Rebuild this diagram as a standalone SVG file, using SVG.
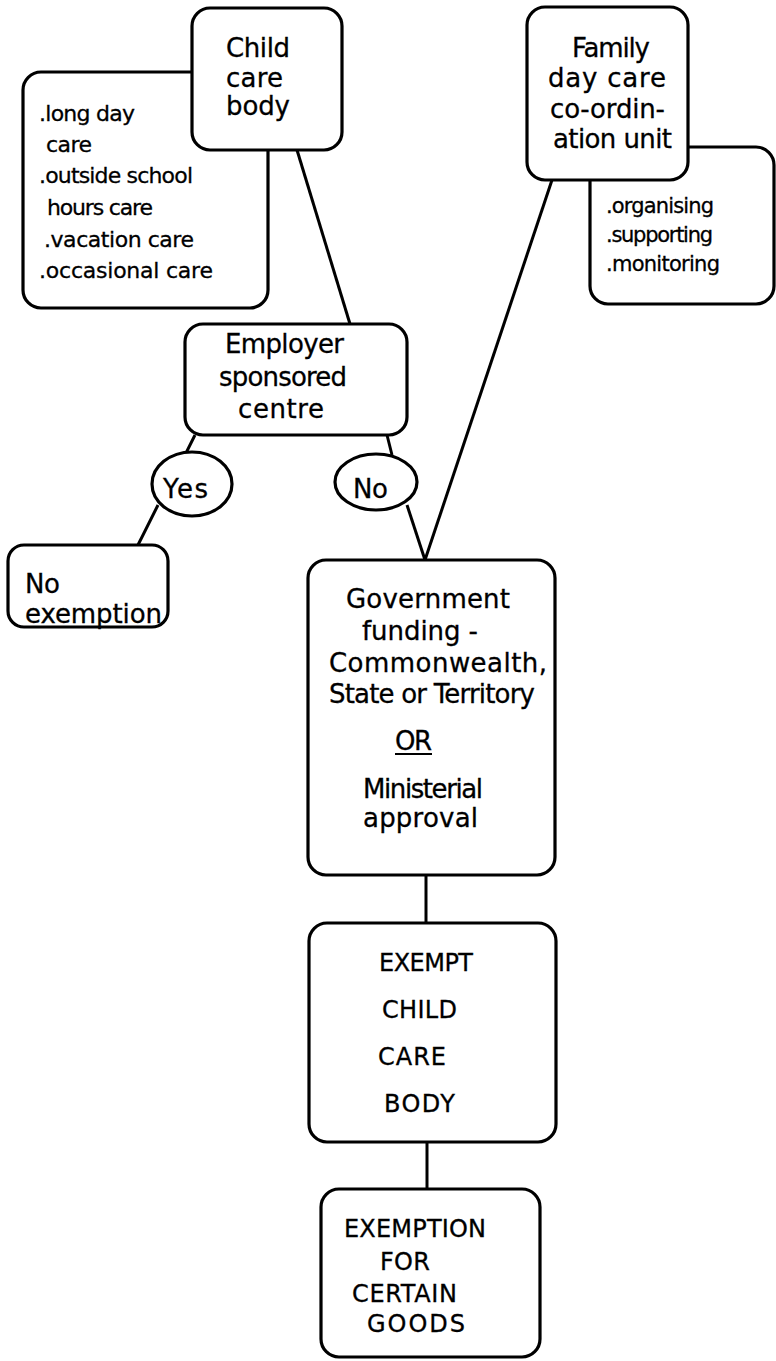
<svg xmlns="http://www.w3.org/2000/svg" width="776" height="1361" viewBox="0 0 776 1361">
<style>
.box{fill:#fff;stroke:#000;stroke-width:3.2}
.ell{fill:#fff;stroke:#000;stroke-width:3.2}
.ln{stroke:#000;stroke-width:3;fill:none}
text{font-family:"DejaVu Sans","Liberation Sans",sans-serif;fill:#000;stroke:#000;stroke-width:0.3}
.t{font-size:26px}
.s{font-size:22px}
.m{font-size:21px}
.c{font-size:24px}
</style>
<rect width="776" height="1361" fill="#fff"/>
<g id="connectors">
<line class="ln" x1="297" y1="150" x2="350" y2="324"/>
<line class="ln" x1="195" y1="435" x2="186" y2="453"/>
<line class="ln" x1="158" y1="505" x2="138" y2="545"/>
<line class="ln" x1="387" y1="435" x2="392" y2="455"/>
<line class="ln" x1="407" y1="505" x2="425" y2="560"/>
<line class="ln" x1="552" y1="180" x2="425" y2="560"/>
<line class="ln" x1="426" y1="875" x2="426" y2="923"/>
<line class="ln" x1="427" y1="1142" x2="427" y2="1189"/>
</g>
<g id="activities">
<rect class="box" x="23" y="72" width="245" height="236" rx="18"/>
<text class="s" x="39" y="121" textLength="96">.long day</text>
<text class="s" x="46" y="152" textLength="46">care</text>
<text class="s" x="39" y="183" textLength="154">.outside school</text>
<text class="s" x="47" y="215" textLength="106">hours care</text>
<text class="s" x="44" y="247" textLength="150">.vacation care</text>
<text class="s" x="39" y="278" textLength="174">.occasional care</text>
</g>
<g id="child-care-body">
<rect class="box" x="192" y="8" width="150" height="142" rx="18"/>
<text class="t" x="226" y="57" textLength="64">Child</text>
<text class="t" x="226" y="87" textLength="57">care</text>
<text class="t" x="226" y="115" textLength="64">body</text>
</g>
<g id="functions">
<rect class="box" x="590" y="147" width="184" height="157" rx="18"/>
<text class="m" x="606" y="213" textLength="108">.organising</text>
<text class="m" x="606" y="242" textLength="107">.supporting</text>
<text class="m" x="606" y="271" textLength="114">.monitoring</text>
</g>
<g id="family-day-care">
<rect class="box" x="527" y="7" width="161" height="173" rx="18"/>
<text class="t" x="572" y="57" textLength="78">Family</text>
<text class="t" x="548" y="87" textLength="118">day care</text>
<text class="t" x="550" y="118" textLength="115">co-ordin-</text>
<text class="t" x="553" y="148" textLength="119">ation unit</text>
</g>
<g id="employer">
<rect class="box" x="185" y="324" width="222" height="111" rx="18"/>
<text class="t" x="225" y="353" textLength="119">Employer</text>
<text class="t" x="219" y="386" textLength="128">sponsored</text>
<text class="t" x="238" y="418" textLength="86">centre</text>
</g>
<g id="yes">
<ellipse class="ell" cx="192" cy="484" rx="40" ry="32"/>
<text class="t" x="163" y="498" textLength="45">Yes</text>
</g>
<g id="no">
<ellipse class="ell" cx="376" cy="482" rx="41" ry="28"/>
<text class="t" x="353" y="498" textLength="35">No</text>
</g>
<g id="no-exemption">
<rect class="box" x="8" y="545" width="160" height="82" rx="16"/>
<text class="t" x="25" y="593" textLength="35">No</text>
<text class="t" x="25" y="623" textLength="137">exemption</text>
</g>
<g id="government">
<rect class="box" x="308" y="560" width="247" height="315" rx="18"/>
<text class="t" x="346" y="608" textLength="164">Government</text>
<text class="t" x="362" y="640" textLength="116">funding -</text>
<text class="t" x="329" y="672" textLength="218">Commonwealth,</text>
<text class="t" x="329" y="703" textLength="206">State or Territory</text>
<text class="t" x="395" y="750" textLength="37">OR</text>
<line x1="395" y1="754" x2="432" y2="754" stroke="#000" stroke-width="2"/>
<text class="t" x="363" y="798" textLength="120">Ministerial</text>
<text class="t" x="363" y="827" textLength="115">approval</text>
</g>
<g id="exempt">
<rect class="box" x="309" y="923" width="247" height="219" rx="18"/>
<text class="c" x="379" y="971" textLength="94">EXEMPT</text>
<text class="c" x="382" y="1018" textLength="75">CHILD</text>
<text class="c" x="378" y="1065" textLength="68">CARE</text>
<text class="c" x="384" y="1112" textLength="71">BODY</text>
</g>
<g id="exemption-goods">
<rect class="box" x="321" y="1189" width="219" height="168" rx="18"/>
<text class="c" x="344" y="1237" textLength="142">EXEMPTION</text>
<text class="c" x="380" y="1270" textLength="50">FOR</text>
<text class="c" x="352" y="1302" textLength="105">CERTAIN</text>
<text class="c" x="367" y="1332" textLength="98">GOODS</text>
</g>
</svg>
